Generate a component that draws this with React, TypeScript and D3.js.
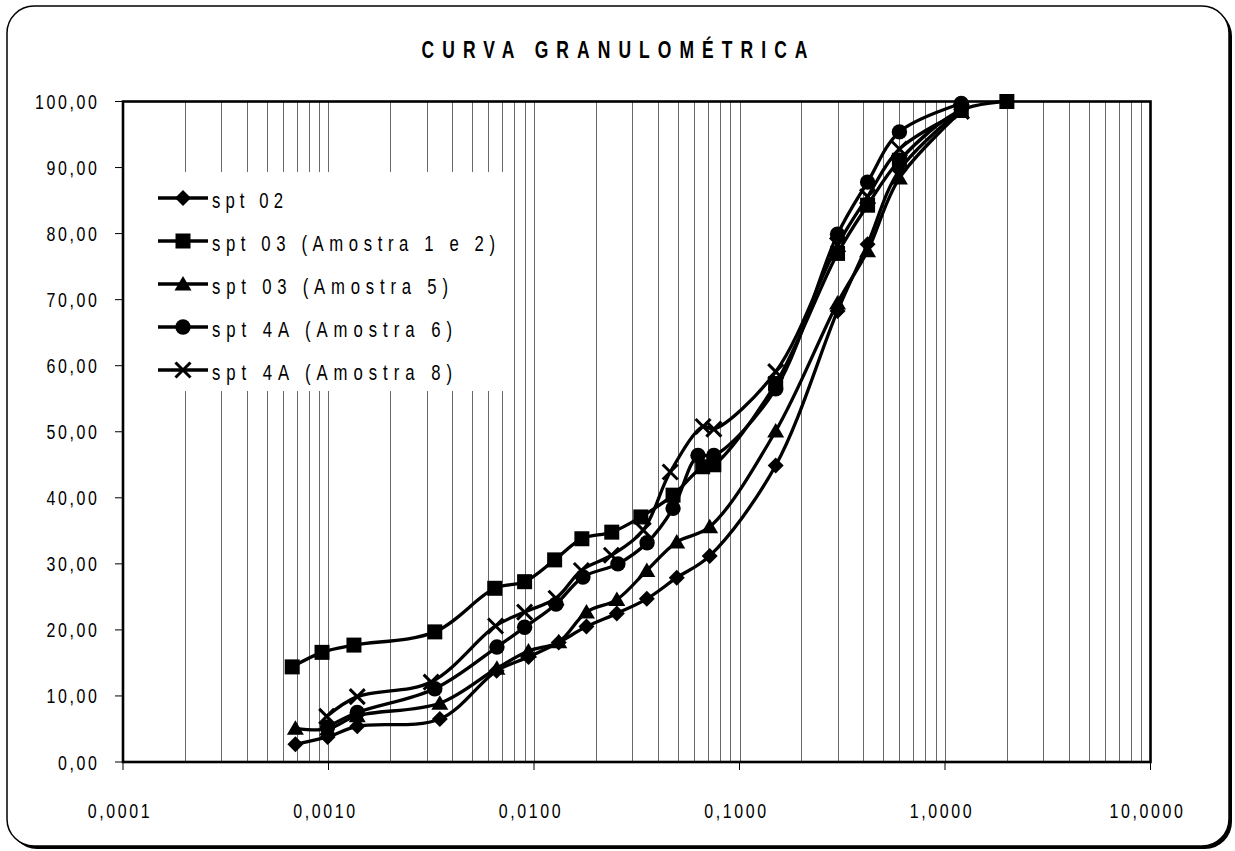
import React from 'react';
import * as d3 from 'd3';

// ---------- data (particle size in mm, % passing) ----------
const seriesNames = [
  'spt 02',
  'spt 03 (Amostra 1 e 2)',
  'spt 03 (Amostra 5)',
  'spt 4A (Amostra 6)',
  'spt 4A (Amostra 8)',
];
const seriesMarkers = ['diamond', 'square', 'triangle', 'circle', 'x'];

const spt02: [number, number][] = [
  [0.00069, 2.7], [0.00099, 3.8], [0.00138, 5.4], [0.00348, 6.5], [0.00658, 13.8],
  [0.0094, 15.9], [0.0132, 18.1], [0.0180, 20.5], [0.0253, 22.5], [0.0354, 24.7],
  [0.0495, 27.9], [0.0716, 31.2], [0.15, 44.9], [0.3, 68.3], [0.42, 78.4],
  [0.6, 89.6], [1.2, 98.8],
];
const spt03a12: [number, number][] = [
  [0.000666, 14.4], [0.00093, 16.6], [0.00133, 17.7], [0.00329, 19.7], [0.00644, 26.3],
  [0.0090, 27.3], [0.0126, 30.6], [0.0171, 33.8], [0.0239, 34.8], [0.0331, 37.1],
  [0.0475, 40.4], [0.0662, 44.7], [0.075, 45.0], [0.15, 57.3], [0.3, 77.0],
  [0.42, 84.3], [0.6, 91.1], [1.2, 98.7], [2.0, 100],
];
const spt03a5: [number, number][] = [
  [0.00069, 5.1], [0.00099, 5.0], [0.00138, 7.0], [0.00348, 8.9], [0.0066, 14.2],
  [0.0094, 16.8], [0.0132, 18.2], [0.0180, 22.7], [0.0253, 24.6], [0.0354, 29.0],
  [0.0495, 33.3], [0.0716, 35.6], [0.15, 50.1], [0.3, 69.5], [0.42, 77.4],
  [0.6, 88.4], [1.2, 98.5],
];
const spt4a6: [number, number][] = [
  [0.00099, 5.3], [0.00138, 7.5], [0.00329, 11.1], [0.0066, 17.4], [0.0090, 20.4],
  [0.0128, 23.9], [0.0173, 28.0], [0.0256, 30.0], [0.0355, 33.2], [0.0475, 38.4],
  [0.0628, 46.4], [0.075, 46.4], [0.15, 56.5], [0.3, 79.9], [0.42, 87.8],
  [0.6, 95.4], [1.2, 99.7],
];
const spt4a8: [number, number][] = [
  [0.00098, 6.9], [0.00138, 9.9], [0.00316, 12.1], [0.0065, 20.6], [0.0090, 22.7],
  [0.0128, 24.8], [0.0170, 29.0], [0.0238, 31.3], [0.0340, 35.1], [0.0460, 43.9],
  [0.0665, 50.8], [0.075, 50.4], [0.15, 59.1], [0.3, 78.3], [0.42, 85.6],
  [0.6, 92.8], [1.2, 98.5],
];
const seriesData = [spt02, spt03a12, spt03a5, spt4a6, spt4a8];

const xTicks = [0.0001, 0.001, 0.01, 0.1, 1, 10];
const xTickLabels = ['0,0001', '0,0010', '0,0100', '0,1000', '1,0000', '10,0000'];
const yTicks = [0, 10, 20, 30, 40, 50, 60, 70, 80, 90, 100];
const yTickLabels = ['0,00', '10,00', '20,00', '30,00', '40,00', '50,00', '60,00', '70,00', '80,00', '90,00', '100,00'];
const titleText = 'CURVA GRANULOMÉTRICA';

// ---------- layout ----------
const W = 1235, H = 851;
const PL = 123, PR = 1150.5, PT = 101.5, PB = 762;
const SX = 0.76;
const FONT = "'Liberation Sans', Arial, sans-serif";

const xs = d3.scaleLog().domain([0.0001, 10]).range([PL, PR]);
const ys = d3.scaleLinear().domain([0, 100]).range([PB, PT]);

function NText(props: {
  x: number; y: number; size: number; anchor?: string; weight?: string;
  ls?: number; len?: number; children: string;
}) {
  const { x, y, size, anchor = 'start', weight = 'normal', ls = 0, len, children } = props;
  return (
    <text
      transform={`translate(${x},${y}) scale(${SX},1)`}
      fontFamily={FONT}
      fontSize={size}
      fontWeight={weight}
      textAnchor={anchor as any}
      letterSpacing={len ? undefined : ls / SX}
      textLength={len ? len / SX : undefined}
      lengthAdjust={len ? 'spacing' : undefined}
      fill="#000"
    >
      {children}
    </text>
  );
}

function Marker({ type, x, y }: { type: string; x: number; y: number }) {
  const t = `translate(${x},${y})`;
  if (type === 'diamond') return <path transform={t} d="M0,-8L8,0L0,8L-8,0Z" fill="#000" />;
  if (type === 'square') return <rect x={x - 7.5} y={y - 7.5} width={15} height={15} fill="#000" />;
  if (type === 'triangle') return <path transform={t} d="M0,-8L8.5,6.5L-8.5,6.5Z" fill="#000" />;
  if (type === 'circle') return <circle cx={x} cy={y} r={7.7} fill="#000" />;
  return (
    <g transform={t} stroke="#000" strokeWidth={3}>
      <line x1={-7.5} y1={-7.5} x2={7.5} y2={7.5} />
      <line x1={-7.5} y1={7.5} x2={7.5} y2={-7.5} />
    </g>
  );
}

export default function App() {
  const line = d3.line<[number, number]>()
    .x(d => xs(d[0]))
    .y(d => ys(d[1]))
    .curve(d3.curveCatmullRom.alpha(0.5));

  const grid: number[] = [];
  for (let k = -4; k <= 0; k++) {
    for (let m = 1; m <= 9; m++) {
      const v = m * Math.pow(10, k);
      if (k === -4 && m === 1) continue;
      grid.push(v);
    }
  }

  const R = 27;
  const fx = 7, fy = 6, fw = 1222, fh = 840;

  const legX = 148, legY = 172, legW = 360, legH = 219;
  const legRow0 = 198, legStep = 43;
  const legLens = [71, 283, 236, 240, 240];

  return (
    <svg width={W} height={H} style={{ position: 'absolute', left: 0, top: 0 }}>
      <rect x={0} y={0} width={W} height={H} fill="#fff" />
      {/* frame with shadow */}
      <rect x={fx + 3} y={fy + 3} width={fw} height={fh} rx={R} ry={R} fill="#000" />
      <rect x={fx} y={fy} width={fw} height={fh} rx={R} ry={R} fill="#fff" stroke="#000" strokeWidth={1.5} />

      {/* title */}
      <NText x={421.5} y={58} size={23} weight="bold" len={386}>{titleText}</NText>

      {/* vertical gridlines */}
      {grid.map((v, i) => {
        const x = Math.round(xs(v)) + 0.5;
        return <line key={i} x1={x} x2={x} y1={PT} y2={PB} stroke="#6a6a6a" strokeWidth={1} />;
      })}

      {/* plot border */}
      <rect x={PL} y={PT} width={PR - PL} height={PB - PT} fill="none" stroke="#000" strokeWidth={2.6} />

      {/* y ticks & labels */}
      {yTicks.map((v, i) => (
        <g key={i}>
          <line x1={PL - 8} x2={PL} y1={ys(v)} y2={ys(v)} stroke="#000" strokeWidth={1} />
          <NText x={99.5} y={ys(v) + 7.5} size={21} anchor="end" ls={2.6}>{yTickLabels[i]}</NText>
        </g>
      ))}

      {/* x ticks & labels */}
      {xTicks.map((v, i) => (
        <g key={i}>
          <line x1={xs(v)} x2={xs(v)} y1={PB} y2={PB + 8} stroke="#000" strokeWidth={1} />
          <NText x={xs(v) - 3} y={818} size={21} anchor="middle" ls={2.6}>{xTickLabels[i]}</NText>
        </g>
      ))}

      {/* series */}
      {seriesData.map((data, si) => (
        <g key={si}>
          <path d={line(data) || ''} fill="none" stroke="#000" strokeWidth={3.3} strokeLinejoin="round" />
          {data.map((d, j) => (
            <Marker key={j} type={seriesMarkers[si]} x={xs(d[0])} y={ys(d[1])} />
          ))}
        </g>
      ))}

      {/* legend */}
      <rect x={legX} y={legY} width={legW} height={legH} fill="#fff" />
      {seriesNames.map((name, i) => {
        const y = legRow0 + i * legStep;
        return (
          <g key={i}>
            <line x1={158} x2={208} y1={y} y2={y} stroke="#000" strokeWidth={3.3} />
            <Marker type={seriesMarkers[i]} x={183} y={y} />
            <NText x={212} y={y + 10} size={22} len={legLens[i]}>{name}</NText>
          </g>
        );
      })}
    </svg>
  );
}
